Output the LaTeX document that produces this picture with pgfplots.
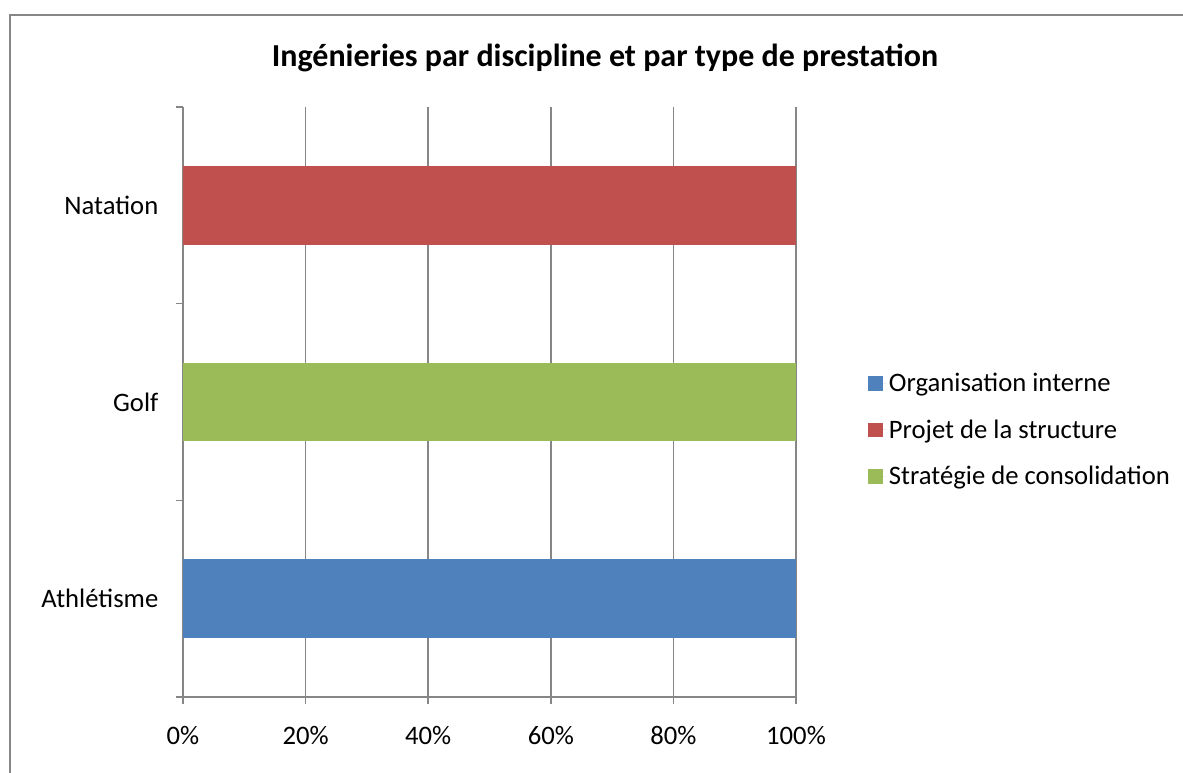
\documentclass[border=0pt]{standalone}
\usepackage{pgfplots}
\pgfplotsset{compat=1.18}
\usepackage{fontspec}
\setmainfont{Carlito}
\definecolor{cblue}{HTML}{4F81BD}
\definecolor{cred}{HTML}{C0504D}
\definecolor{cgreen}{HTML}{9BBB59}
\definecolor{axgray}{HTML}{868686}
\begin{document}
\begin{tikzpicture}[x=0.75pt,y=0.75pt]
\useasboundingbox (0,0) rectangle (1183,773);
\draw[line width=1.5pt, color=axgray] (10,0) -- (10,758) -- (1183,758);
\node[font=\fontsize{24}{29}\selectfont\bfseries] at (605,715) {Ingénieries par discipline et par type de prestation};
\begin{axis}[
  at={(137.25pt,57pt)}, anchor=south west,
  scale only axis, width=459.75pt, height=442.5pt,
  xbar stacked, bar width=0.4,
  xmin=0, xmax=100, ymin=-0.5, ymax=2.5,
  axis x line*=bottom, axis y line*=left,
  axis line style={axgray, line width=1.1pt, -},
  tick style={axgray, line width=1.1pt},
  tick align=outside,
  major tick length=5.5pt,
  xtick={0,20,40,60,80,100},
  xticklabels={0\%,20\%,40\%,60\%,80\%,100\%},
  ytick={-0.5,0.5,1.5,2.5},
  yticklabels={},
  extra y ticks={0,1,2},
  extra y tick labels={Athlétisme,Golf,Natation},
  extra y tick style={major tick length=0pt, grid=none},
  xmajorgrids,
  grid style={axgray, line width=1.1pt},
  ticklabel style={font=\fontsize{20}{24}\selectfont, text=black},
  xticklabel style={yshift=-13pt},
  yticklabel style={xshift=-15pt},
  legend style={at={(1.1175,0.4525)}, anchor=west, draw=none, fill=none,
    font=\fontsize{20}{24}\selectfont, row sep=15.5pt, inner sep=0pt},
  legend cell align=left,
  legend image code/.code={\fill[#1] (0pt,-5.6pt) rectangle (11.25pt,5.6pt); \path (0pt,0pt) -- (13.5pt,0pt);},
]
\addplot[fill=cblue, draw=none] coordinates {(100,0) (0,1) (0,2)};
\addplot[fill=cred, draw=none] coordinates {(0,0) (0,1) (100,2)};
\addplot[fill=cgreen, draw=none] coordinates {(0,0) (100,1) (0,2)};
\legend{Organisation interne, Projet de la structure, Stratégie de consolidation}
\end{axis}
\end{tikzpicture}
\end{document}
